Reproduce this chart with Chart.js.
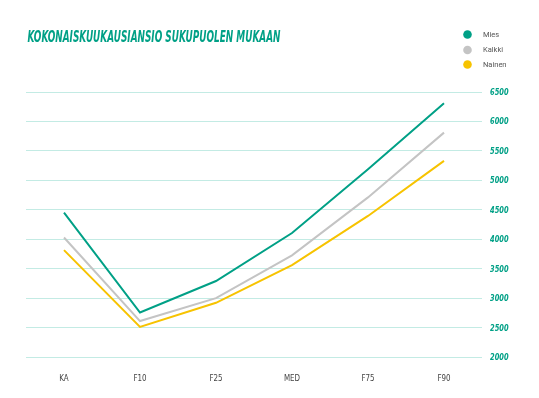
<!DOCTYPE html>
<html>
<head>
<meta charset="utf-8">
<script src="https://cdn.jsdelivr.net/npm/chart.js@4"></script>
<style>
  html, body { margin: 0; padding: 0; background: #fff; }
  #wrap { width: 539px; height: 398px; position: relative; }
</style>
</head>
<body>
<div id="wrap"><canvas id="chart"></canvas></div>
<script>
const title = 'KOKONAISKUUKAUSIANSIO SUKUPUOLEN MUKAAN';
const categories = ['KA', 'F10', 'F25', 'MED', 'F75', 'F90'];
const seriesNames = ['Mies', 'Kalkki', 'Nainen'];
const mies = [4450, 2755, 3290, 4105, 5190, 6310];
const kalkki = [4030, 2610, 3000, 3725, 4710, 5810];
const nainen = [3815, 2510, 2920, 3560, 4395, 5330];
const yTicks = [2000, 2500, 3000, 3500, 4000, 4500, 5000, 5500, 6000, 6500];
const colors = ['#00a086', '#c4c4c4', '#f7c300'];

const teal = '#00a086';

// condensed text: squeeze horizontally (no condensed web font available)
function squeezed(ctx, text, x, y, scale, align) {
  const w = ctx.measureText(text).width * scale;
  let left = x;
  if (align === 'center') left = x - w / 2;
  ctx.save();
  ctx.translate(left, y);
  ctx.scale(scale, 1);
  ctx.fillText(text, 0, 0);
  ctx.restore();
}

// title, legend and tick labels drawn on the canvas
const headerPlugin = {
  id: 'header',
  afterDraw(chart) {
    const ctx = chart.ctx;
    ctx.save();
    ctx.font = "italic bold 15px 'DejaVu Sans'";
    ctx.fillStyle = teal;
    ctx.textBaseline = 'alphabetic';
    const w = ctx.measureText(title).width;
    squeezed(ctx, title, 27.5, 42, 253 / w, 'left');

    const ys = [34.5, 50, 64.5];
    chart.data.datasets.forEach((ds, i) => {
      ctx.beginPath();
      ctx.arc(467.5, ys[i], 4.3, 0, Math.PI * 2);
      ctx.fillStyle = ds.borderColor;
      ctx.fill();
      ctx.font = "7.5px Roboto";
      ctx.fillStyle = '#555';
      ctx.textBaseline = 'middle';
      ctx.fillText(ds.label, 483, ys[i] + 0.5);
    });

    // y tick labels
    const y = chart.scales.y;
    ctx.font = "italic bold 9.5px 'DejaVu Sans'";
    ctx.fillStyle = teal;
    ctx.textBaseline = 'middle';
    y.ticks.forEach(t => {
      squeezed(ctx, String(t.value), chart.chartArea.right + 8, y.getPixelForValue(t.value) + 0.5, 0.7, 'left');
    });

    // x tick labels
    const x = chart.scales.x;
    ctx.font = "9.5px 'DejaVu Sans'";
    ctx.fillStyle = '#444';
    x.ticks.forEach((t, i) => {
      squeezed(ctx, categories[i], x.getPixelForTick(i), chart.chartArea.bottom + 22, 0.75, 'center');
    });
    ctx.restore();
  }
};

new Chart(document.getElementById('chart'), {
  type: 'line',
  data: {
    labels: categories,
    datasets: [mies, kalkki, nainen].map((d, i) => ({
      label: seriesNames[i],
      data: d,
      borderColor: colors[i],
      backgroundColor: colors[i],
      borderWidth: 2,
      pointRadius: 0,
      tension: 0
    }))
  },
  options: {
    responsive: true,
    maintainAspectRatio: false,
    animation: false,
    layout: { padding: { left: 26, right: 28, top: 92, bottom: 14 } },
    plugins: {
      legend: { display: false },
      tooltip: { enabled: false }
    },
    scales: {
      x: {
        offset: true,
        grid: { display: false, drawTicks: false },
        border: { display: false },
        ticks: { display: false },
        afterFit(axis) { axis.height = 27; }
      },
      y: {
        position: 'right',
        min: 2000,
        max: 6500,
        afterBuildTicks(axis) { axis.ticks = yTicks.map(v => ({ value: v })); },
        grid: { color: '#c3ebe4', lineWidth: 1, drawTicks: false },
        border: { display: false },
        ticks: { display: false },
        afterFit(axis) { axis.width = 29; }
      }
    }
  },
  plugins: [headerPlugin]
});
</script>
</body>
</html>
